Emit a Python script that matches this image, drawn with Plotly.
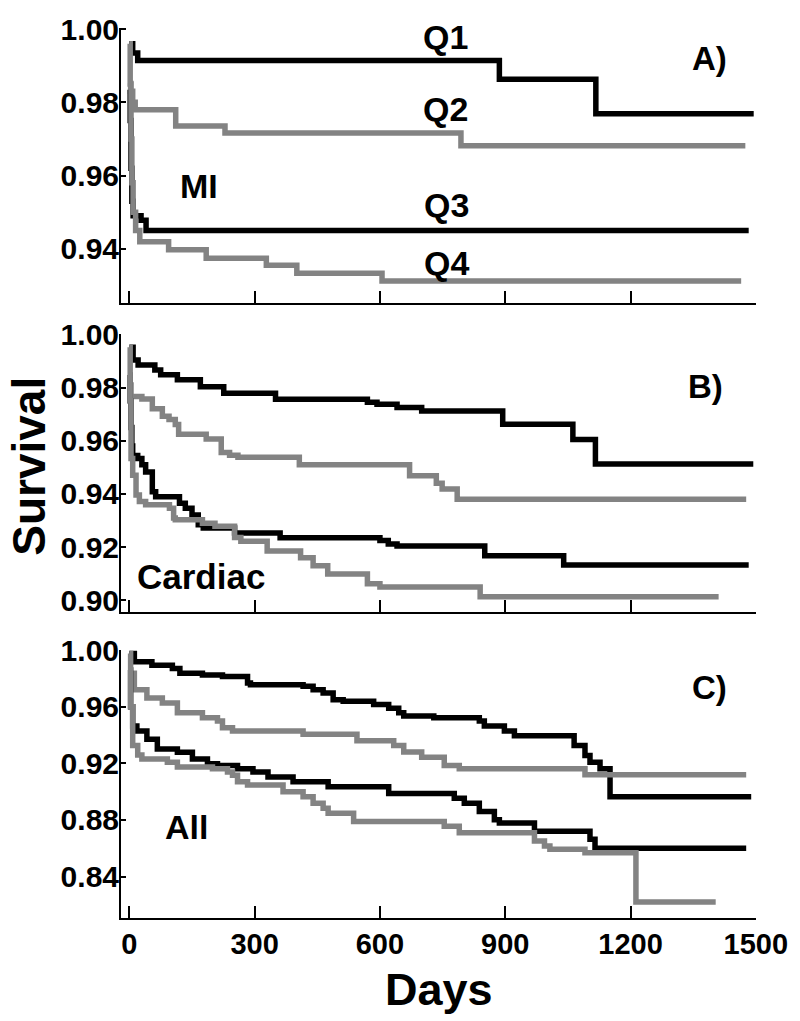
import plotly.graph_objects as go

# ---------------- data ----------------
# Panel A : MI
A_q1_days = [0, 8, 20, 886, 1117, 1495]
A_q1_surv = [0.996, 0.9935, 0.9914, 0.9863, 0.9769, 0.9769]
A_q2_days = [0, 3, 8, 14, 111, 229, 794, 1475]
A_q2_surv = [0.9852, 0.983, 0.980, 0.978, 0.9735, 0.9716, 0.9681, 0.9681]
A_q3_days = [0, 2, 4, 6, 9, 28, 40, 1483]
A_q3_surv = [0.9834, 0.975, 0.962, 0.953, 0.949, 0.9478, 0.945, 0.945]
A_q4_days = [0, 2, 4, 6, 9, 15, 25, 94, 184, 328, 401, 605, 1465]
A_q4_surv = [0.996, 0.985, 0.970, 0.958, 0.950, 0.945, 0.9419, 0.9397, 0.9374,
             0.9355, 0.9333, 0.9312, 0.9312]

# Panel B : Cardiac
B_q1_days = [0, 9, 21, 61, 75, 115, 170, 226, 350, 570, 593, 641, 700, 894,
             1062, 1116, 1494]
B_q1_surv = [0.9952, 0.9904, 0.9885, 0.9866, 0.9848, 0.9829, 0.9803, 0.9779,
             0.9756, 0.9745, 0.9737, 0.9725, 0.9712, 0.9662, 0.9605, 0.9512,
             0.9512]
B_q2_days = [0, 4, 30, 55, 79, 95, 110, 118, 184, 220, 240, 260, 407, 671, 735,
             749, 785, 1477]
B_q2_surv = [0.981, 0.9766, 0.9757, 0.972, 0.9692, 0.968, 0.9661, 0.9624,
             0.9606, 0.9556, 0.9545, 0.9538, 0.951, 0.9468, 0.944, 0.9418,
             0.938, 0.938]
B_q3_days = [0, 2, 4, 6, 8, 20, 30, 39, 55, 63, 120, 134, 150, 165, 177, 252,
             361, 600, 620, 641, 851, 1040, 1483]
B_q3_surv = [0.9847, 0.975, 0.965, 0.958, 0.9544, 0.9533, 0.951, 0.9482,
             0.9408, 0.9389, 0.9365, 0.9346, 0.9321, 0.9284, 0.9272, 0.9253,
             0.9235, 0.9225, 0.9212, 0.9204, 0.9167, 0.9133, 0.9133]
B_q4_days = [0, 2, 4, 8, 16, 24, 39, 96, 106, 110, 175, 205, 252, 267, 330,
             410, 440, 475, 570, 600, 840, 1411]
B_q4_surv = [0.9952, 0.975, 0.9533, 0.947, 0.9396, 0.9371, 0.9359, 0.9346,
             0.9309, 0.9303, 0.929, 0.9278, 0.9236, 0.9222, 0.9185, 0.916,
             0.913, 0.9099, 0.9062, 0.905, 0.9013, 0.9013]

# Panel C : All
C_q1_days = [0, 12, 54, 103, 121, 175, 223, 283, 290, 416, 440, 464, 488, 512,
             585, 621, 645, 657, 729, 838, 850, 898, 922, 1065, 1091, 1103,
             1127, 1151, 1489]
C_q1_surv = [0.9977, 0.9919, 0.9895, 0.9872, 0.9837, 0.9826, 0.9814, 0.9768,
             0.9756, 0.9745, 0.9721, 0.9698, 0.9651, 0.964, 0.9616, 0.959,
             0.9558, 0.9535, 0.9523, 0.95, 0.9465, 0.943, 0.9395, 0.9326,
             0.9256, 0.9209, 0.9162, 0.8965, 0.8965]
C_q2_days = [0, 12, 42, 79, 115, 175, 211, 223, 247, 416, 545, 633, 657, 700,
             754, 790, 1091, 1477]
C_q2_surv = [0.9837, 0.9721, 0.9663, 0.9628, 0.9558, 0.9523, 0.95, 0.9453,
             0.943, 0.9407, 0.9361, 0.9326, 0.928, 0.9244, 0.9186, 0.9162,
             0.912, 0.912]
C_q3_days = [0, 3, 8, 18, 42, 67, 115, 151, 187, 211, 259, 296, 332, 392, 476,
             621, 778, 802, 838, 874, 886, 970, 1103, 1115, 1477]
C_q3_surv = [0.986, 0.96, 0.9465, 0.943, 0.937, 0.9302, 0.9279, 0.9232, 0.9197,
             0.9186, 0.9162, 0.9139, 0.9104, 0.907, 0.9035, 0.8988, 0.8953,
             0.8918, 0.886, 0.8802, 0.8778, 0.872, 0.8663, 0.86, 0.86]
C_q4_days = [0, 3, 8, 20, 30, 91, 115, 199, 235, 247, 259, 283, 368, 416, 440,
             464, 476, 537, 754, 790, 970, 994, 1007, 1091, 1213, 1404]
C_q4_surv = [0.9977, 0.96, 0.9326, 0.926, 0.9232, 0.9209, 0.9174, 0.9162,
             0.9139, 0.9116, 0.907, 0.9047, 0.9, 0.8965, 0.8918, 0.8883, 0.8848,
             0.879, 0.8755, 0.8709, 0.8651, 0.8616, 0.8593, 0.8569, 0.822,
             0.822]

x_ticks = [0, 300, 600, 900, 1200, 1500]
A_yticks = [0.94, 0.96, 0.98, 1.00]
B_yticks = [0.90, 0.92, 0.94, 0.96, 0.98, 1.00]
C_yticks = [0.84, 0.88, 0.92, 0.96, 1.00]

BLACK = "#000000"
GRAY = "#838383"
FONT = "Liberation Sans, Arial, sans-serif"

panels = [
    ("x", "y", [(A_q1_days, A_q1_surv, BLACK), (A_q2_days, A_q2_surv, GRAY),
                (A_q3_days, A_q3_surv, BLACK), (A_q4_days, A_q4_surv, GRAY)]),
    ("x2", "y2", [(B_q1_days, B_q1_surv, BLACK), (B_q2_days, B_q2_surv, GRAY),
                  (B_q3_days, B_q3_surv, BLACK), (B_q4_days, B_q4_surv, GRAY)]),
    ("x3", "y3", [(C_q1_days, C_q1_surv, BLACK), (C_q2_days, C_q2_surv, GRAY),
                  (C_q3_days, C_q3_surv, BLACK), (C_q4_days, C_q4_surv, GRAY)]),
]

fig = go.Figure()
for xa, ya, series in panels:
    for d, s, c in series:
        fig.add_trace(go.Scatter(x=d, y=s, mode="lines", xaxis=xa, yaxis=ya,
                                 line=dict(color=c, width=5.5, shape="hv"),
                                 showlegend=False, hoverinfo="skip"))

# layout geometry (pixels)
W, H = 800, 1021
L, R, T, B = 121, 35, 18, 103
PW, PH = W - L - R, H - T - B


def fy(ypx):
    return (H - B - ypx) / PH


def fx(xpx):
    return (xpx - L) / PW


def xaxis(show_labels):
    return dict(range=[-20, 1500.5], showline=True, linecolor="black", linewidth=2,
                ticks="inside", ticklen=12, tickwidth=2, tickcolor="black",
                tickvals=x_ticks, showticklabels=show_labels, showgrid=False,
                zeroline=False, ticklabelstandoff=-1,
                tickfont=dict(size=29, family=FONT, color="black", weight="bold"))


def yaxis(rng, ticks, dom):
    return dict(range=rng, domain=dom, showline=True, linecolor="black", linewidth=2,
                ticks="inside", ticklen=5, tickwidth=2, tickcolor="black",
                tickvals=ticks, ticktext=["%.2f" % t for t in ticks],
                showgrid=False, zeroline=False, ticklabelstandoff=-6,
                tickfont=dict(size=30, family=FONT, color="black", weight="bold"))


fig.update_layout(
    width=W, height=H, autosize=False,
    margin=dict(l=L, r=R, t=T, b=B, pad=0),
    paper_bgcolor="white", plot_bgcolor="white",
    font=dict(family=FONT, color="black", weight="bold"),
    xaxis=dict(xaxis(False), anchor="y"),
    xaxis2=dict(xaxis(False), anchor="y2"),
    xaxis3=dict(xaxis(True), anchor="y3"),
    yaxis=dict(yaxis([0.9252, 1.0003], A_yticks, [fy(296), fy(18)]), anchor="x"),
    yaxis2=dict(yaxis([0.8956, 1.0003], B_yticks, [fy(608.5), fy(327)]), anchor="x2"),
    yaxis3=dict(yaxis([0.8107, 1.0004], C_yticks, [fy(918), fy(646.7)]), anchor="x3"),
)

labels = [
    ("Q1", 450, 27, 34), ("Q2", 450, 100, 34), ("Q3", 451, 197, 34),
    ("Q4", 451, 256, 34), ("A)", 718, 49, 33), ("MI", 200, 178, 34),
    ("B)", 714, 381, 33), ("Cardiac", 202, 573, 35), ("C)", 718, 685, 33),
    ("All", 187, 826, 34),
]
for txt, xp, yp, sz in labels:
    fig.add_annotation(text=txt, x=fx(xp), y=fy(yp), xref="paper", yref="paper",
                       xanchor="center", yanchor="middle", showarrow=False,
                       font=dict(size=sz, family=FONT, color="black", weight="bold"))

fig.add_annotation(text="Survival", x=fx(0), y=fy(461), xref="paper", yref="paper",
                   xanchor="left", yanchor="middle", showarrow=False, textangle=-90,
                   borderpad=0,
                   font=dict(size=46, family=FONT, color="black", weight="bold"))
fig.add_annotation(text="Days", x=fx(443), y=fy(990), xref="paper", yref="paper",
                   xanchor="center", yanchor="middle", showarrow=False,
                   font=dict(size=45, family=FONT, color="black", weight="bold"))

fig.write_html("out.html", config={"displayModeBar": False},
               post_script="document.body.style.margin='0';")
